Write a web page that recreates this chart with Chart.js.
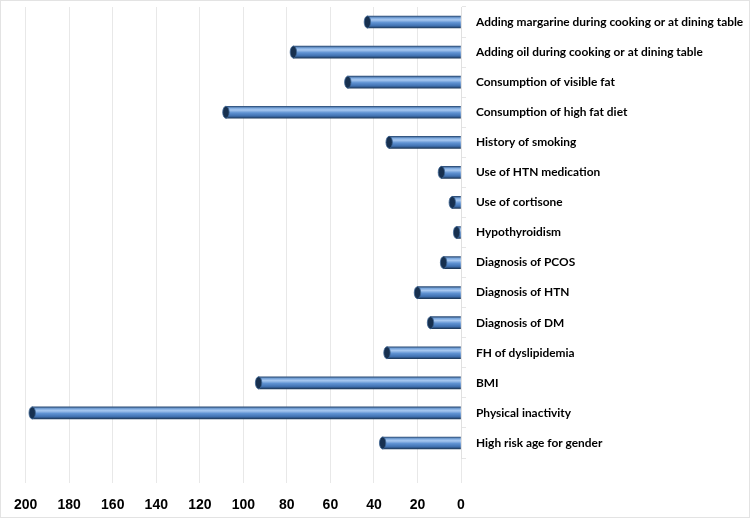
<!DOCTYPE html>
<html>
<head>
<meta charset="utf-8">
<script src="https://cdn.jsdelivr.net/npm/chart.js@4"></script>
<style>
  body { margin: 0; background: #fff; }
  #wrap { width: 750px; height: 518px; }
</style>
</head>
<body>
<div id="wrap"><canvas id="riskChart"></canvas></div>
<script>
// risk factors, top to bottom as in the picture
var factors = [
    "Adding margarine during cooking or at dining table",
    "Adding oil during cooking or at dining table",
    "Consumption of visible fat",
    "Consumption of high fat diet",
    "History of smoking",
    "Use of HTN medication",
    "Use of cortisone",
    "Hypothyroidism",
    "Diagnosis of PCOS",
    "Diagnosis of HTN",
    "Diagnosis of DM",
    "FH of dyslipidemia",
    "BMI",
    "Physical inactivity",
    "High risk age for gender"
];
var counts = [43, 77, 52, 108, 33, 9, 4, 2, 8, 20, 14, 34, 93, 197, 36];
var axisMin = 0;
var axisMax = 200;
var axisStep = 20;

var labelFont = "Lato, 'Liberation Sans', sans-serif";

// cylinder look: vertical gradient per bar
function barGradient(context) {
    var chart = context.chart;
    var yScale = chart.scales.y;
    if (!yScale || context.dataIndex === undefined) return '#4f81bd';
    var y = yScale.getPixelForValue(context.dataIndex);
    if (!isFinite(y)) return '#4f81bd';
    var g = chart.ctx.createLinearGradient(0, y - 6, 0, y + 6);
    g.addColorStop(0, '#2b4c76');
    g.addColorStop(0.15, '#7aa7dd');
    g.addColorStop(0.32, '#a8c8f0');
    g.addColorStop(0.55, '#5f92d2');
    g.addColorStop(0.82, '#3f70b0');
    g.addColorStop(1, '#1d3859');
    return g;
}

// dark end caps on the value end of each cylinder
var capPlugin = {
    id: 'caps',
    afterDatasetsDraw: function (chart) {
        var ctx = chart.ctx;
        var meta = chart.getDatasetMeta(0);
        meta.data.forEach(function (bar) {
            var h = bar.height / 2;
            ctx.save();
            ctx.beginPath();
            ctx.ellipse(bar.x, bar.y, 3.2, h, 0, 0, Math.PI * 2);
            ctx.fillStyle = '#17304f';
            ctx.fill();
            ctx.lineWidth = 0.8;
            ctx.strokeStyle = '#3d6593';
            ctx.stroke();
            ctx.restore();
        });
    }
};

var framePlugin = {
    id: 'frame',
    beforeDraw: function (chart) {
        var ctx = chart.ctx;
        ctx.save();
        ctx.fillStyle = '#ffffff';
        ctx.fillRect(0, 0, chart.width, chart.height);
        ctx.strokeStyle = '#e3e3e3';
        ctx.lineWidth = 1;
        ctx.strokeRect(0.5, 0.5, chart.width - 1, chart.height - 1);
        ctx.restore();
    }
};

new Chart(document.getElementById('riskChart').getContext('2d'), {
    type: 'bar',
    data: {
        labels: factors,
        datasets: [{
            data: counts,
            backgroundColor: barGradient,
            borderWidth: 0,
            barThickness: 12
        }]
    },
    options: {
        indexAxis: 'y',
        responsive: true,
        maintainAspectRatio: false,
        animation: false,
        layout: { padding: { left: 2, right: 4, top: 7, bottom: 4 } },
        plugins: {
            legend: { display: false },
            tooltip: { enabled: false }
        },
        scales: {
            x: {
                reverse: true,
                min: axisMin,
                max: axisMax,
                afterFit: function (scale) {
                    scale.height = 56;
                    scale.paddingTop = 0;
                    scale.paddingBottom = 0;
                },
                ticks: {
                    stepSize: axisStep,
                    color: '#000',
                    padding: 14,
                    font: { family: "'Liberation Sans', sans-serif", size: 14, weight: 'bold' }
                },
                grid: {
                    color: '#e8e8e8',
                    tickLength: 25,
                    tickColor: '#e8e8e8'
                },
                border: { display: false }
            },
            y: {
                position: 'right',
                afterFit: function (scale) {
                    scale.width = 285;
                    scale.paddingTop = 0;
                    scale.paddingBottom = 0;
                },
                ticks: {
                    color: '#000',
                    padding: 10,
                    font: { family: labelFont, size: 11.9, weight: 'bold' }
                },
                grid: {
                    display: true,
                    drawOnChartArea: false,
                    drawTicks: true,
                    tickLength: 5,
                    tickColor: '#e6e6e6',
                    offset: true
                },
                border: { display: true, color: '#e0e0e0' }
            }
        }
    },
    plugins: [framePlugin, capPlugin]
});
</script>
</body>
</html>
